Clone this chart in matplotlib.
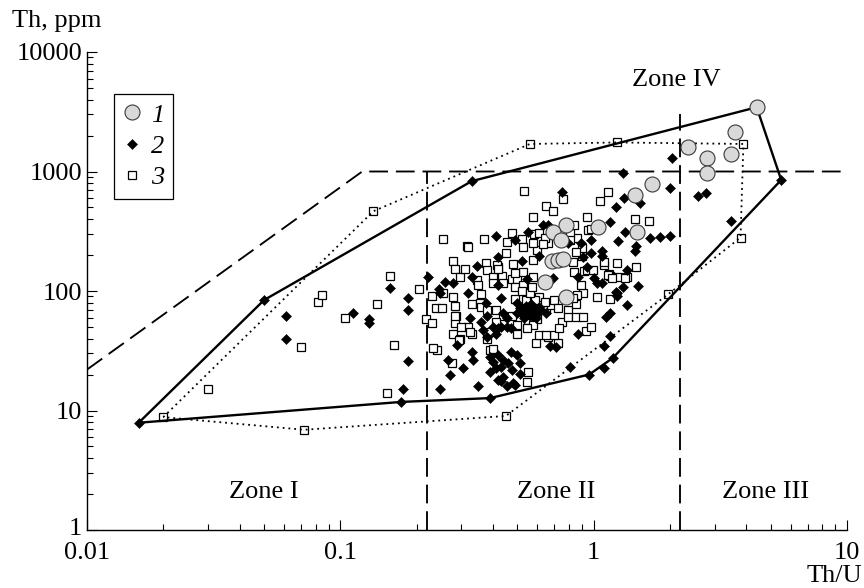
import matplotlib
matplotlib.use('Agg')
import matplotlib.pyplot as plt
import matplotlib.transforms as mtransforms
from matplotlib.ticker import FixedLocator, LogLocator, NullFormatter, FixedFormatter
from matplotlib.lines import Line2D

plt.rcParams['font.family'] = ['Liberation Serif', 'DejaVu Serif']
plt.rcParams['font.size'] = 19

# ---------------- data (Th/U, Th ppm) ----------------
group1 = [(4.4, 3450), (3.6, 2150), (2.35, 1600), (3.5, 1400), (2.8, 1300), (2.8, 970),
          (1.7, 790), (1.45, 640), (1.48, 310), (1.04, 345), (0.78, 355), (0.69, 310),
          (0.74, 268), (0.685, 178), (0.72, 182), (0.76, 185), (0.64, 118), (0.78, 89)]

group2 = [(0.016, 7.9), (0.05, 84), (0.33, 830), (5.5, 850), (1.19, 27.5), (0.96, 20),
          (0.39, 12.7), (0.174, 11.8),
          (0.061, 62), (0.061, 40), (0.112, 65), (0.13, 58), (0.13, 54),
          (0.157, 106), (0.185, 87), (0.185, 69), (0.185, 26), (0.176, 15),
          (0.222, 130), (0.245, 104), (0.259, 119), (0.247, 96), (0.278, 116),
          (0.29, 35), (0.265, 26.5), (0.27, 20), (0.247, 15), (0.305, 22.5), (0.33, 31),
          (0.35, 16), (0.335, 26.5),
          (0.41, 290), (0.49, 267), (0.42, 192), (0.52, 178), (0.345, 162), (0.33, 131),
          (0.32, 96), (0.42, 112), (0.545, 127),
          (0.38, 62), (0.50, 80), (0.43, 87), (0.375, 80), (0.325, 59), (0.365, 47),
          (0.40, 50), (0.36, 55), (0.38, 41),
          (0.51, 72), (0.53, 68), (0.55, 70), (0.57, 66), (0.52, 64), (0.56, 62), (0.60, 64),
          (0.54, 75), (0.62, 69), (0.58, 72), (0.59, 60), (0.53, 60), (0.50, 66), (0.565, 78),
          (0.61, 74),
          (0.44, 66), (0.455, 60), (0.43, 50), (0.47, 49), (0.455, 50), (0.42, 49), (0.41, 44),
          (0.65, 65),
          (0.39, 28), (0.40, 25.5), (0.42, 29), (0.44, 26.5), (0.41, 22.5), (0.47, 31),
          (0.50, 29), (0.46, 25), (0.51, 25), (0.475, 21.8), (0.39, 21), (0.42, 18),
          (0.43, 17.5), (0.51, 20.3), (0.48, 17), (0.455, 16), (0.49, 16.3), (0.43, 23),
          (0.44, 19),
          (0.67, 34.5), (0.71, 34), (0.87, 44), (0.81, 23), (1.10, 22.5), (1.10, 34.5),
          (1.16, 42),
          (1.16, 65), (1.12, 61), (1.24, 96), (1.35, 76), (1.49, 110), (1.08, 116),
          (1.35, 150), (1.30, 108), (1.22, 98), (1.24, 91),
          (1.08, 195), (0.94, 158), (0.98, 208), (0.79, 250), (0.98, 267), (1.16, 378),
          (1.33, 312), (1.25, 262), (1.67, 277), (1.82, 285), (2.0, 290), (1.47, 240),
          (1.45, 215), (1.08, 215), (0.89, 250), (0.91, 192), (0.87, 131), (1.0, 128),
          (1.03, 116), (0.69, 128), (0.63, 119), (0.61, 195), (0.66, 360), (0.63, 355),
          (0.55, 310), (0.75, 675), (1.22, 505), (1.53, 545), (1.32, 600), (2.01, 730),
          (1.3, 980), (2.04, 1300), (2.57, 625), (2.78, 665), (3.5, 383)]

group3 = [(0.02, 8.8), (0.135, 465), (0.56, 1700), (1.24, 1750), (3.9, 1700), (3.8, 280),
          (1.97, 94), (0.45, 9.0), (0.072, 6.9),
          (0.030, 15), (0.082, 81), (0.085, 92), (0.104, 59), (0.070, 34), (0.139, 78),
          (0.157, 133), (0.163, 35), (0.153, 14),
          (0.217, 58), (0.23, 54), (0.205, 104), (0.23, 91), (0.254, 272), (0.239, 72),
          (0.252, 72), (0.254, 96), (0.278, 89), (0.278, 178), (0.284, 152), (0.298, 131),
          (0.31, 152), (0.284, 75), (0.287, 62), (0.278, 44), (0.298, 40), (0.32, 50),
          (0.33, 44), (0.24, 32), (0.232, 33.5), (0.275, 25),
          (0.315, 238), (0.32, 232), (0.37, 272), (0.455, 257), (0.475, 305), (0.52, 272),
          (0.45, 208), (0.48, 168), (0.42, 158), (0.375, 170), (0.38, 150), (0.345, 124),
          (0.35, 112), (0.36, 95), (0.40, 131), (0.40, 116), (0.435, 134), (0.44, 116),
          (0.475, 127), (0.50, 127), (0.49, 108), (0.525, 144), (0.575, 131),
          (0.33, 78), (0.355, 80), (0.36, 73), (0.38, 69), (0.41, 69), (0.44, 62), (0.41, 55),
          (0.475, 62), (0.49, 86), (0.525, 72), (0.55, 57), (0.60, 58), (0.61, 89),
          (0.65, 69), (0.68, 76), (0.575, 52), (0.50, 52), (0.545, 49), (0.50, 44),
          (0.39, 45), (0.38, 40), (0.39, 32), (0.55, 21), (0.545, 17.3), (0.59, 37),
          (0.61, 43), (0.66, 41), (0.72, 37), (0.70, 43),
          (0.75, 55), (0.79, 69), (0.79, 61), (0.85, 61), (0.85, 78), (0.91, 61), (0.93, 46),
          (0.98, 50), (0.91, 96), (0.86, 93), (0.83, 87), (1.03, 89), (1.16, 86),
          (1.35, 131), (1.25, 131), (1.16, 134), (1.15, 140), (1.10, 165), (1.47, 158),
          (1.24, 170), (1.10, 176), (0.90, 195), (0.83, 175), (0.84, 144), (0.92, 146),
          (0.90, 230), (0.86, 280), (0.81, 305), (0.84, 355), (0.94, 418), (0.95, 324),
          (1.45, 400), (1.66, 383), (1.14, 675), (1.06, 565), (0.76, 590), (0.53, 690),
          (0.65, 515), (0.69, 465), (0.575, 418), (0.66, 250), (0.60, 220), (0.525, 233),
          (0.58, 300),
          (1.14, 137), (1.18, 128), (1.33, 128),
          (0.415, 165), (0.42, 152), (0.49, 142), (0.575, 181), (0.525, 112), (0.54, 84),
          (0.585, 84), (0.64, 81), (0.65, 43), (0.40, 33), (0.295, 39), (0.284, 54),
          (0.30, 50), (0.284, 62), (0.325, 45),
          (0.61, 305), (0.645, 280), (0.63, 245), (0.575, 250),
          (0.81, 267), (0.85, 213), (0.94, 150), (0.99, 150), (0.89, 112), (0.98, 330),
          (0.52, 100), (0.56, 96), (0.57, 108), (0.70, 84), (0.72, 72), (0.73, 49)]

solid_hull_thu = [0.016, 0.05, 0.33, 4.4, 5.5, 1.19, 0.96, 0.39, 0.174, 0.016]
solid_hull_th = [7.9, 84, 830, 3450, 850, 27.5, 20, 12.7, 11.8, 7.9]

dotted_hull_thu = [0.02, 0.135, 0.56, 1.24, 3.9, 3.8, 1.97, 0.45, 0.072, 0.02]
dotted_hull_th = [8.8, 465, 1700, 1750, 1700, 280, 94, 9.0, 6.9, 8.8]

zone_diag_thu = [0.01, 0.122, 10]
zone_diag_th = [22, 1000, 1000]
zone_v1_thu = 0.22
zone_v1_th = [1, 1000]
zone_v2_thu = 2.2
zone_v2_th = [1, 3000]

zone_labels = ['Zone I', 'Zone II', 'Zone III', 'Zone IV']
zone_label_thu = [0.05, 0.711, 4.75, 2.12]
zone_label_th = [1.85, 1.85, 1.85, 5190]

legend_labels = ['1', '2', '3']
x_ticks = [0.01, 0.1, 1, 10]
x_ticklabels = ['0.01', '0.1', '1', '10']
y_ticks = [1, 10, 100, 1000, 10000]
y_ticklabels = ['1', '10', '100', '1000', '10000']

# ---------------- figure ----------------
fig = plt.figure(figsize=(8.64, 5.88), dpi=100)
ax = fig.add_axes([87 / 864, 58 / 588, 760 / 864, 478 / 588])
ax.set_xscale('log')
ax.set_yscale('log')
ax.set_xlim(0.01, 10)
ax.set_ylim(1, 10000)

dash = (0, (10, 4.2))
ax.plot(zone_diag_thu, zone_diag_th, color='black', lw=1.35, ls=dash, zorder=1)
ax.plot([zone_v1_thu, zone_v1_thu], zone_v1_th, color='black', lw=1.35, ls=dash, zorder=1)
ax.plot([zone_v2_thu, zone_v2_thu], zone_v2_th, color='black', lw=1.35, ls=dash, zorder=1)

sq_ms = 6.2
dm_ms = 5.0
ci_ms = 10.8

g3x, g3y = zip(*group3)
ax.plot(g3x, g3y, ls='none', marker='s', ms=sq_ms, mfc='white', mec='black', mew=0.9, zorder=2)

ax.plot(dotted_hull_thu, dotted_hull_th, color='black', lw=1.3, ls=(0, (1, 2.2)), zorder=3)
ax.plot(solid_hull_thu, solid_hull_th, color='black', lw=1.7, ls='-', zorder=3)

g2x, g2y = zip(*group2)
ax.plot(g2x, g2y, ls='none', marker='D', ms=dm_ms, mfc='black', mec='black', mew=0.4, zorder=4)

g1x, g1y = zip(*group1)
ax.plot(g1x, g1y, ls='none', marker='o', ms=ci_ms, mfc='#d9d9d9', mec='#3a3a3a', mew=0.8, zorder=5)

for lab, zx, zy in zip(zone_labels, zone_label_thu, zone_label_th):
    ax.text(zx, zy, lab, ha='center', va='baseline', fontsize=19, zorder=6)

# axes styling
for s in ['top', 'right']:
    ax.spines[s].set_visible(False)
for s in ['left', 'bottom']:
    ax.spines[s].set_linewidth(1.0)

ax.xaxis.set_major_locator(FixedLocator(x_ticks))
ax.xaxis.set_major_formatter(FixedFormatter(x_ticklabels))
ax.yaxis.set_major_locator(FixedLocator(y_ticks))
ax.yaxis.set_major_formatter(FixedFormatter(y_ticklabels))
ax.xaxis.set_minor_locator(LogLocator(base=10, subs=range(2, 10), numticks=20))
ax.yaxis.set_minor_locator(LogLocator(base=10, subs=range(2, 10), numticks=20))
ax.xaxis.set_minor_formatter(NullFormatter())
ax.yaxis.set_minor_formatter(NullFormatter())
ax.tick_params(which='major', direction='in', length=7, width=0.8, labelsize=19)
ax.tick_params(which='minor', direction='in', length=4.3, width=0.8)
ax.tick_params(axis='x', which='major', pad=8.3)
ax.tick_params(axis='y', which='major', pad=3.5)

# nudge the lowest y tick label up slightly so it clears the "0.01" label
ytick0 = ax.yaxis.get_major_ticks()[0]
ytick0.label1.set_transform(ytick0.label1.get_transform() +
                            mtransforms.ScaledTranslation(0, 2.5 / 72, fig.dpi_scale_trans))

# legend
handles = [
    Line2D([], [], ls='none', marker='o', ms=ci_ms, mfc='#d9d9d9', mec='#3a3a3a', mew=0.8),
    Line2D([], [], ls='none', marker='D', ms=dm_ms, mfc='black', mec='black', mew=0.4),
    Line2D([], [], ls='none', marker='s', ms=sq_ms, mfc='white', mec='black', mew=0.9),
]
leg = ax.legend(handles, legend_labels, loc='upper left', bbox_to_anchor=(27 / 760, 436 / 478),
                frameon=True, fancybox=False, edgecolor='black', framealpha=1,
                borderpad=0.35, handlelength=0.7, handletextpad=0.35, labelspacing=0.3,
                borderaxespad=0, numpoints=1, prop={'style': 'italic', 'size': 19})
leg.get_frame().set_linewidth(0.9)
leg.set_zorder(7)

fig.text(12 / 864, 1 - 27 / 588, 'Th, ppm', ha='left', va='baseline', fontsize=19)
fig.text(862 / 864, 1 - 582 / 588, 'Th/U', ha='right', va='baseline', fontsize=19)

fig.savefig('out.png', dpi=100)
